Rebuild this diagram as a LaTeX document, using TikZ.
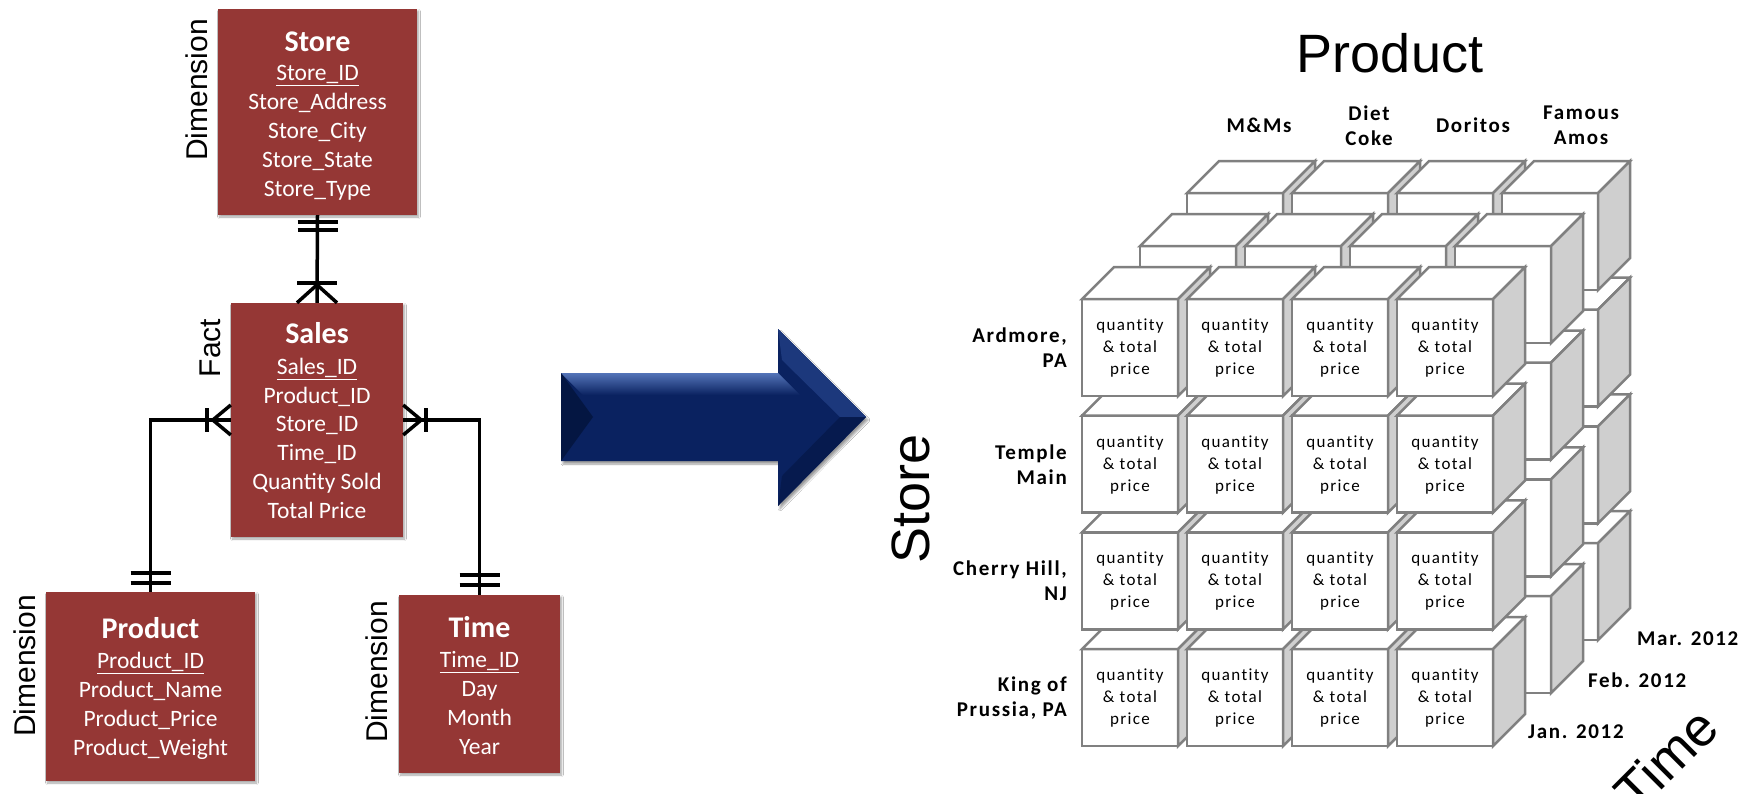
\documentclass[tikz,border=0pt]{standalone}
\usepackage{fontspec}
\setmainfont{Carlito}
\newfontfamily\arialfont{Liberation Sans}
\newfontfamily\trackfont[LetterSpace=8,Ligatures=NoCommon]{Carlito}
\usetikzlibrary{calc,shadows.blur}

\definecolor{erred}{RGB}{149,55,53}
\definecolor{cubeline}{RGB}{128,128,128}
\definecolor{cubeshade}{RGB}{207,207,207}
\definecolor{arrowbody}{RGB}{10,34,96}
\definecolor{arrowlight}{RGB}{84,116,184}
\definecolor{arrowdark}{RGB}{4,22,66}
\definecolor{arrowfacet}{RGB}{28,56,124}

% one data cell of the cube: front face, top face, right side face
\newcommand\datacube[2]{%
  \filldraw[cubeface] (#1,#2) rectangle ++(96,97);
  \filldraw[cubeface] (#1,#2) -- ++(32,-32) -- ++(96,0) -- ++(-32,32) -- cycle;
  \filldraw[cubeside] (#1+96,#2) -- ++(32,-32) -- ++(0,97) -- ++(-32,32) -- cycle;
}

\begin{document}
\begin{tikzpicture}[x=1pt,y=-1pt,
  erbox/.style={fill=erred, draw=none, inner sep=0pt,
    blur shadow={shadow xshift=1.5pt, shadow yshift=-2pt, shadow opacity=35, shadow blur steps=6}},
  ertitle/.style={text=white, inner sep=0pt, text height=19.3pt, text depth=0pt,
    font=\fontsize{30}{30}\selectfont\bfseries},
  erfield/.style={text=white, inner sep=0pt, text height=15.1pt, text depth=0pt,
    font=\fontsize{23.5}{28}\selectfont},
  rolelabel/.style={rotate=90, inner sep=0pt, font=\arialfont\fontsize{30}{30}\selectfont},
  relation/.style={draw=black, line width=3.5pt},
  cubeface/.style={fill=white, draw=cubeline, line width=2.5pt},
  cubeside/.style={fill=cubeshade, draw=cubeline, line width=2.5pt},
  celltext/.style={align=center, inner sep=0pt, font=\trackfont\fontsize{17}{22}\selectfont},
  axislabel/.style={inner sep=0pt, font=\trackfont\bfseries\fontsize{21}{25}\selectfont},
  axistitle/.style={inner sep=0pt, font=\arialfont\fontsize{54}{54}\selectfont}]

\useasboundingbox (0,0) rectangle (1746,793);
\fill[white] (0,0) rectangle (1746,793);

% ---------------- star schema ----------------
\node[erbox, minimum width=199pt, minimum height=206pt] (store) at (317.5,112) {};
\node[erbox, minimum width=172pt, minimum height=234pt] (sales) at (317,420) {};
\node[erbox, minimum width=209pt, minimum height=189pt] (product) at (150.5,686.5) {};
\node[erbox, minimum width=161pt, minimum height=178pt] (time) at (479.5,684) {};

\node[ertitle] (store-title) at (317.5,42) {Store};
\node[erfield] (store-key) at (317.5,73) {\underline{Store\_ID}};
\foreach \t/\yy [count=\i] in {Store\_Address/102, Store\_City/131, Store\_State/160, Store\_Type/189}
  \node[erfield] (store-f\i) at (317.5,\yy) {\t};

\node[ertitle] (sales-title) at (317,334) {Sales};
\node[erfield] (sales-key) at (317,367) {\underline{Sales\_ID}};
\foreach \t/\yy [count=\i] in {Product\_ID/396, Store\_ID/424, Time\_ID/453, Quantity Sold/482, Total Price/511}
  \node[erfield] (sales-f\i) at (317,\yy) {\t};

\node[ertitle] (product-title) at (150.5,629) {Product};
\node[erfield] (product-key) at (150.5,661) {\underline{Product\_ID}};
\foreach \t/\yy [count=\i] in {Product\_Name/690, Product\_Price/719, Product\_Weight/748}
  \node[erfield] (product-f\i) at (150.5,\yy) {\t};

\node[ertitle] (time-title) at (479.5,628) {Time};
\node[erfield] (time-key) at (479.5,660) {\underline{Time\_ID}};
\foreach \t/\yy [count=\i] in {Day/689, Month/718, Year/747}
  \node[erfield] (time-f\i) at (479.5,\yy) {\t};

\node[rolelabel] (store-role) at (197,90) {Dimension};
\node[rolelabel] (sales-role) at (210,348) {Fact};
\node[rolelabel] (product-role) at (25,666) {Dimension};
\node[rolelabel] (time-role) at (377,672) {Dimension};

% relationships
\draw[relation] (store.south) -- (sales.north);
\draw[relation] (sales.west) -| (product.north);
\draw[relation] (sales.east) -| (time.north);

% one-and-only-one marks on the dimension side
\foreach \d in {7,15}
  \draw[relation] ($(store.south)+(-20,\d)$) -- ($(store.south)+(20,\d)$);
\foreach \d in {-19,-9}
  \draw[relation] ($(product.north)+(-20,\d)$) -- ($(product.north)+(20,\d)$);
\foreach \d in {-20,-10}
  \draw[relation] ($(time.north)+(-20,\d)$) -- ($(time.north)+(20,\d)$);

% one-or-many marks on the fact side
\draw[relation] ($(sales.north)+(-20,0)$) -- ($(sales.north)+(0,-18)$) -- ($(sales.north)+(20,0)$);
\draw[relation] ($(sales.north)+(-20,-20)$) -- ($(sales.north)+(20,-20)$);
\draw[relation] ($(sales.west)+(0,-15)$) -- ($(sales.west)+(-18,0)$) -- ($(sales.west)+(0,15)$);
\draw[relation] ($(sales.west)+(-24,-12)$) -- ($(sales.west)+(-24,12)$);
\draw[relation] ($(sales.east)+(0,-15)$) -- ($(sales.east)+(18,0)$) -- ($(sales.east)+(0,15)$);
\draw[relation] ($(sales.east)+(23,-12)$) -- ($(sales.east)+(23,12)$);

% ---------------- bevelled arrow ----------------
\fill[arrowbody, blur shadow={shadow xshift=2pt, shadow yshift=-3pt, shadow opacity=40, shadow blur steps=8}]
  (561,373) -- (778,373) -- (778,329) -- (866,417) -- (778,506) -- (778,461) -- (561,461) -- cycle;
\shade[top color=arrowlight, bottom color=arrowbody] (561,373) -- (778,373) -- (800,395) -- (583,395) -- cycle;
\fill[arrowdark] (561,373) -- (593,417) -- (561,461) -- cycle;
\fill[arrowfacet] (778,329) -- (866,417) -- (840,417) -- (782,360) -- cycle;
\fill[arrowdark, opacity=0.6] (778,506) -- (866,417) -- (840,417) -- (782,476) -- cycle;

% ---------------- data cube ----------------
% layers back to front (Mar., Feb., Jan.), rows bottom to top, columns left to right
\foreach \lx/\ly in {1187/193, 1140/246, 1082/299} {
  \foreach \r in {3,2,1,0} {
    \foreach \c in {0,1,2,3} {
      \pgfmathsetmacro\cx{\lx+105*\c}
      \pgfmathsetmacro\cy{\ly+116.7*\r}
      \datacube{\cx}{\cy}
    }
  }
}
\foreach \r in {0,1,2,3}
  \foreach \c in {0,1,2,3}
    \node[celltext] (cell-\r-\c) at (1130+105*\c, 348+116.7*\r) {quantity\\\& total\\price};

% axis titles
\node[axistitle, anchor=base] (product-axis) at (1390,72) {Product};
\node[axistitle, rotate=90] (store-axis) at (911,499) {Store};
\node[axistitle, rotate=45] (time-axis) at (1666,759) {Time};

% member labels
\node[axislabel, align=center] (p-mms) at (1259,125) {M\&Ms};
\node[axislabel, align=center] (p-coke) at (1369,125.5) {Diet\\Coke};
\node[axislabel, align=center] (p-doritos) at (1473,125) {Doritos};
\node[axislabel, align=center] (p-amos) at (1581,125.5) {Famous\\Amos};

\node[axislabel, align=right, anchor=east] (s-ardmore) at (1067,348) {Ardmore,\\PA};
\node[axislabel, align=right, anchor=east] (s-temple) at (1067,464.5) {Temple\\Main};
\node[axislabel, align=right, anchor=east] (s-cherry) at (1067,581) {Cherry Hill,\\NJ};
\node[axislabel, align=right, anchor=east] (s-king) at (1067,698) {King of\\Prussia, PA};

\node[axislabel, anchor=west] (t-mar) at (1637,639) {Mar. 2012};
\node[axislabel, anchor=west] (t-feb) at (1588,680) {Feb. 2012};
\node[axislabel, anchor=west] (t-jan) at (1528,732) {Jan. 2012};
\end{tikzpicture}
\end{document}
